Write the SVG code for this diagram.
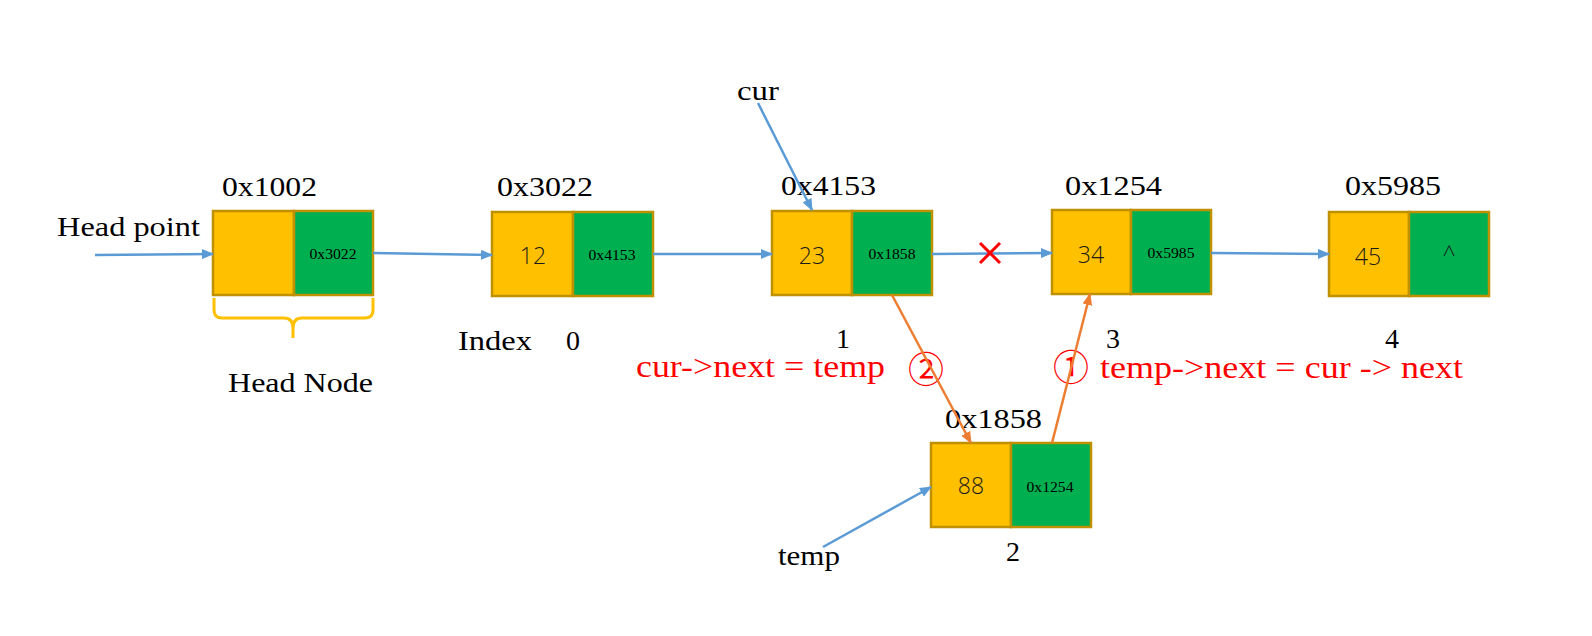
<svg xmlns="http://www.w3.org/2000/svg" width="1592" height="636" viewBox="0 0 1592 636">
<style>
.y{fill:#FFC000;stroke:#BF9000;stroke-width:2.5}
.g{fill:#00B050;stroke:#BF9000;stroke-width:2.5}
.lbl{font-family:"Liberation Serif","Times New Roman",serif;font-size:28px;fill:#000}
.sm{font-family:"Liberation Serif","Times New Roman",serif;font-size:15px;fill:#000;text-anchor:middle}
.num{font-family:"Open Sans","Noto Sans",sans-serif;font-weight:300;font-size:23px;fill:#1a1a1a;text-anchor:middle}
.red{font-family:"Liberation Serif","Times New Roman",serif;font-size:31px;fill:#FF0000}
.circ{font-family:"Noto Sans CJK SC",sans-serif;font-size:36px;fill:#FF0000;text-anchor:middle}
.blue{stroke:#5B9BD5;stroke-width:2.5;fill:none;marker-end:url(#ab)}
.orange{stroke:#ED7D31;stroke-width:2.5;fill:none;marker-end:url(#ao)}
</style>
<defs>
<marker id="ab" markerUnits="userSpaceOnUse" markerWidth="12" markerHeight="10" refX="11" refY="5" orient="auto"><path d="M0,0 L12,5 L0,10 z" fill="#5B9BD5"/></marker>
<marker id="ao" markerUnits="userSpaceOnUse" markerWidth="12" markerHeight="10" refX="11" refY="5" orient="auto"><path d="M0,0 L12,5 L0,10 z" fill="#ED7D31"/></marker>
</defs>
<rect width="1592" height="636" fill="#fff"/>

<g id="head-node">
<rect class="y" x="213" y="211" width="81" height="84"/>
<rect class="g" x="294" y="211" width="79" height="84"/>
<text class="lbl" x="222" y="196" textLength="95" lengthAdjust="spacingAndGlyphs">0x1002</text>
<text class="sm" x="333" y="259" textLength="47" lengthAdjust="spacingAndGlyphs">0x3022</text>
<path d="M214,298 L214,310 Q214,318 222,318 L284,318 Q293,318 293,328 L293,338 M293,328 Q293,318 302,318 L365,318 Q373,318 373,310 L373,298" fill="none" stroke="#FFC000" stroke-width="3"/>
<text class="lbl" x="228" y="392" textLength="145" lengthAdjust="spacingAndGlyphs">Head Node</text>
</g>

<g id="node-0">
<rect class="y" x="492" y="212" width="81" height="84"/>
<rect class="g" x="573" y="212" width="80" height="84"/>
<text class="lbl" x="497" y="196" textLength="96" lengthAdjust="spacingAndGlyphs">0x3022</text>
<text class="num" x="533" y="264">12</text>
<text class="sm" x="612" y="260" textLength="47" lengthAdjust="spacingAndGlyphs">0x4153</text>
</g>

<g id="node-1">
<rect class="y" x="772" y="211" width="80" height="84"/>
<rect class="g" x="852" y="211" width="80" height="84"/>
<text class="lbl" x="781" y="195" textLength="95" lengthAdjust="spacingAndGlyphs">0x4153</text>
<text class="num" x="812" y="264">23</text>
<text class="sm" x="892" y="259" textLength="47" lengthAdjust="spacingAndGlyphs">0x1858</text>
</g>

<g id="node-3">
<rect class="y" x="1052" y="210" width="79" height="84"/>
<rect class="g" x="1131" y="210" width="80" height="84"/>
<text class="lbl" x="1065" y="195" textLength="97" lengthAdjust="spacingAndGlyphs">0x1254</text>
<text class="num" x="1091" y="263">34</text>
<text class="sm" x="1171" y="258" textLength="47" lengthAdjust="spacingAndGlyphs">0x5985</text>
</g>

<g id="node-4">
<rect class="y" x="1329" y="212" width="80" height="84"/>
<rect class="g" x="1409" y="212" width="80" height="84"/>
<text class="lbl" x="1345" y="195" textLength="96" lengthAdjust="spacingAndGlyphs">0x5985</text>
<text class="num" x="1368" y="265">45</text>
<text class="num" x="1449" y="263">^</text>
</g>

<g id="node-temp">
<rect class="y" x="931" y="443" width="80" height="84"/>
<rect class="g" x="1011" y="443" width="80" height="84"/>
<text class="lbl" x="945" y="428" textLength="97" lengthAdjust="spacingAndGlyphs">0x1858</text>
<text class="num" x="971" y="494">88</text>
<text class="sm" x="1050" y="492" textLength="47" lengthAdjust="spacingAndGlyphs">0x1254</text>
</g>

<g id="labels">
<text class="lbl" x="57" y="236" textLength="143" lengthAdjust="spacingAndGlyphs">Head point</text>
<text class="lbl" x="458" y="350" textLength="74" lengthAdjust="spacingAndGlyphs">Index</text>
<text class="lbl" x="573" y="350" text-anchor="middle">0</text>
<text class="lbl" x="843" y="348" text-anchor="middle">1</text>
<text class="lbl" x="1113" y="348" text-anchor="middle">3</text>
<text class="lbl" x="1392" y="348" text-anchor="middle">4</text>
<text class="lbl" x="1013" y="561" text-anchor="middle">2</text>
<text class="lbl" x="737" y="100" textLength="42" lengthAdjust="spacingAndGlyphs">cur</text>
<text class="lbl" x="778" y="565" textLength="62" lengthAdjust="spacingAndGlyphs">temp</text>
<text class="red" x="636" y="377" textLength="249" lengthAdjust="spacingAndGlyphs">cur-&gt;next = temp</text>
<text class="red" x="1100" y="378" textLength="363" lengthAdjust="spacingAndGlyphs">temp-&gt;next = cur -&gt; next</text>
<text class="circ" x="926" y="383">②</text>
<text class="circ" x="1071" y="381">①</text>
</g>

<g id="connectors">
<line class="blue" x1="95" y1="255" x2="213" y2="254"/>
<line class="blue" x1="373" y1="253" x2="492" y2="255"/>
<line class="blue" x1="653" y1="254" x2="772" y2="254"/>
<line class="blue" x1="932" y1="254" x2="1052" y2="253"/>
<line class="blue" x1="1211" y1="253" x2="1329" y2="254"/>
<line class="blue" x1="758" y1="103" x2="812" y2="210"/>
<line class="blue" x1="823" y1="547" x2="931" y2="487"/>
<line class="orange" x1="892" y1="295" x2="971" y2="443"/>
<line class="orange" x1="1052" y1="443" x2="1090" y2="294"/>
<path d="M980,243 L1000,263 M1000,243 L980,263" stroke="#FF0000" stroke-width="3" fill="none"/>
</g>
</svg>
